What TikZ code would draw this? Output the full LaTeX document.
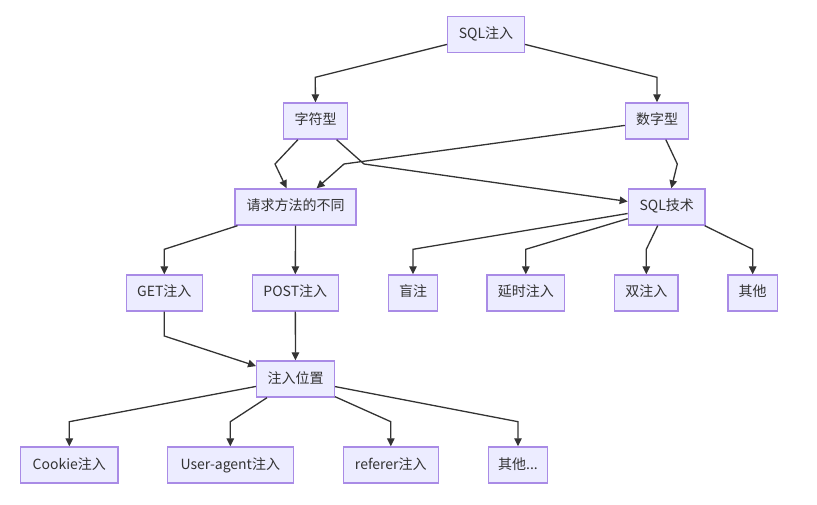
\documentclass[tikz,border=0pt]{standalone}
\usepackage{fontspec}
\setmainfont{Noto Sans CJK SC}
\usetikzlibrary{arrows.meta}
\definecolor{boxfill}{HTML}{ECECFF}
\definecolor{boxline}{HTML}{A98BE6}
\definecolor{ink}{HTML}{333333}
\begin{document}
\begin{tikzpicture}
    [
    x=1pt,y=-1pt,
    box/.style={rectangle,draw=boxline,fill=boxfill,line width=1.4pt,inner sep=0pt,minimum height=36pt,text=ink,font=\fontsize{14}{16}\selectfont,text height=10.5pt,text depth=2.5pt},
    edge/.style={draw=ink,line width=1.3pt,-{Triangle[length=8pt,width=7.5pt]}}
    ]
    \useasboundingbox (0,0) rectangle (817,505);

    \node (sql) at (486,34.7) [box,minimum width=76.6] {SQL注入};

    \node (zifu) at (315.5,121) [box,minimum width=63.6] {字符型};
    \node (shuzi) at (657,121) [box,minimum width=63] {数字型};

    \node (qingqiu) at (295.5,207) [box,minimum width=121] {请求方法的不同};
    \node (jishu) at (666.7,207) [box,minimum width=76.7] {SQL技术};

    \node (get) at (164.3,293) [box,minimum width=76] {GET注入};
    \node (post) at (295.3,293) [box,minimum width=86] {POST注入};
    \node (mang) at (413,293) [box,minimum width=48.7] {盲注};
    \node (yanshi) at (525.8,293) [box,minimum width=77.7] {延时注入};
    \node (shuang) at (646.3,293) [box,minimum width=63.3] {双注入};
    \node (qita) at (752.7,293) [box,minimum width=49.3] {其他};

    \node (weizhi) at (295.5,379) [box,minimum width=77.6] {注入位置};

    \node (cookie) at (69.3,465) [box,minimum width=97.3] {Cookie注入};
    \node (ua) at (230.3,465) [box,minimum width=126] {User-agent注入};
    \node (referer) at (390.8,465) [box,minimum width=95] {referer注入};
    \node (more) at (518,465) [box,minimum width=59.3] {其他...};

    \draw [edge] (sql) -- (315.3,77.3) -- (zifu);
    \draw [edge] (sql) -- (657,77.3) -- (shuzi);

    \draw [edge] (zifu) -- (275,164) -- (qingqiu);
    \draw [edge] (shuzi) -- (344,164) -- (qingqiu);
    \draw [edge] (zifu) -- (364,164) -- (jishu);
    \draw [edge] (shuzi) -- (677.3,164) -- (jishu);

    \draw [edge] (qingqiu) -- (164.3,249.3) -- (get);
    \draw [edge] (qingqiu) -- (post);
    \draw [edge] (jishu) -- (413,249.3) -- (mang);
    \draw [edge] (jishu) -- (525.8,249.3) -- (yanshi);
    \draw [edge] (jishu) -- (646.3,249.3) -- (shuang);
    \draw [edge] (jishu) -- (752.7,249.3) -- (qita);

    \draw [edge] (get) -- (164.3,336) -- (weizhi);
    \draw [edge] (post) -- (weizhi);

    \draw [edge] (weizhi) -- (69.3,421.7) -- (cookie);
    \draw [edge] (weizhi) -- (230.3,421.7) -- (ua);
    \draw [edge] (weizhi) -- (390.8,421.7) -- (referer);
    \draw [edge] (weizhi) -- (518,421.7) -- (more);
  \end{tikzpicture}
\end{document}
